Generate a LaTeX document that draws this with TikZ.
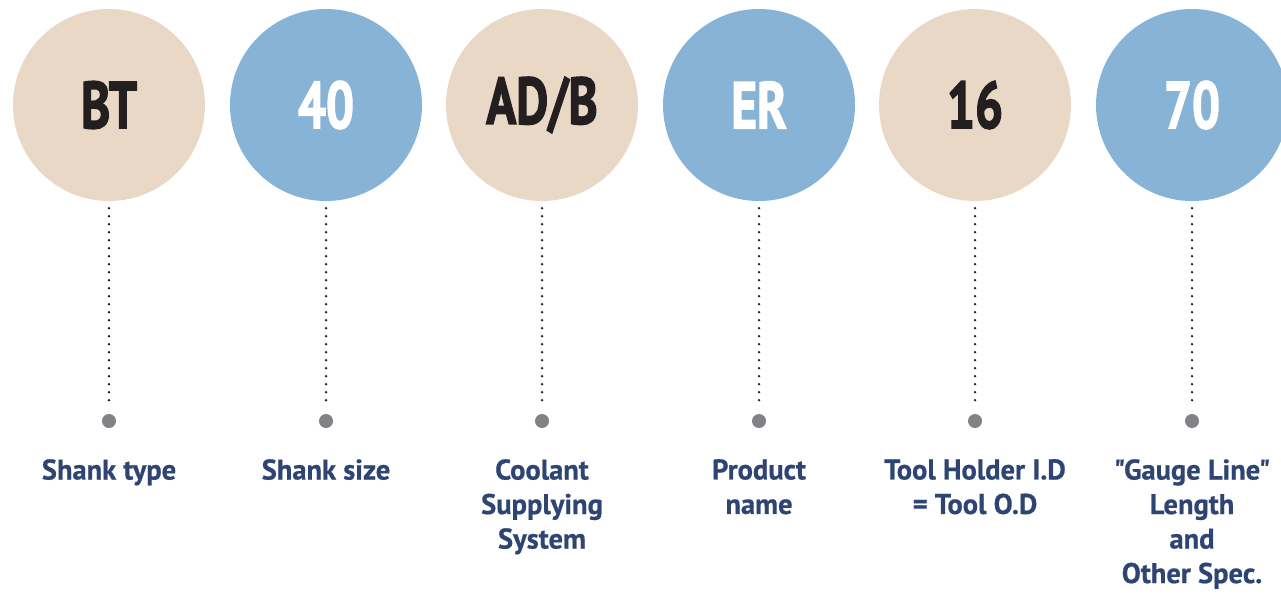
\documentclass[tikz,border=0pt]{standalone}
\usepackage{fontspec}
\setmainfont{PT Sans}
\newfontfamily\labfont{PT Sans}[Ligatures=TeXOff,BoldFeatures={FakeBold=0.6}]
\newfontfamily\bigfont{PT Sans}[BoldFeatures={FakeBold=2.4}]
\definecolor{beige}{HTML}{E9D8C5}
\definecolor{sky}{HTML}{86B3D6}
\definecolor{navy}{HTML}{2E4473}
\definecolor{ink}{HTML}{231F20}
\definecolor{dotgray}{HTML}{808285}
\begin{document}
\begin{tikzpicture}[x=1pt,y=-1pt,
  circ/.style={circle,inner sep=0pt,minimum size=192pt,font=\bigfont\fontsize{66}{66}\selectfont\bfseries},
  tan/.style={circ,fill=beige,text=ink},
  blu/.style={circ,fill=sky,text=white},
  pin/.style={circle,fill=dotgray,inner sep=0pt,minimum size=14pt},
  lead/.style={draw=ink,line width=2.6pt,line cap=round,dash pattern=on 0pt off 8pt},
  lab/.style={anchor=north,inner sep=0pt,align=center,text=navy,font=\labfont\fontsize{28.5}{34.5}\selectfont\bfseries}]
\useasboundingbox (0,0) rectangle (1281,594);
\clip (0,0) rectangle (1281,594);
\foreach \i/\x/\s/\t in {1/109/tan/BT,2/326/blu/40,3/542/tan/AD\slash B,4/759/blu/ER,5/975/tan/16,6/1192/blu/70}{
  \node[\s] (c\i) at (\x,105) {\scalebox{0.75}[1]{\t}};
  \node[pin] (d\i) at (\x,421) {};
  \draw[lead] ([yshift=-7pt]c\i.south) -- ([yshift=6pt]d\i.north);
}
\node[lab] (l1) at (109,459) {Shank type};
\node[lab] (l2) at (326,459) {Shank size};
\node[lab] (l3) at (542,459) {Coolant\\Supplying\\System};
\node[lab] (l4) at (759,459) {Product\\name};
\node[lab] (l5) at (975,459) {Tool Holder I.D\\= Tool O.D};
\node[lab] (l6) at (1192,459) {"Gauge Line"\\Length\\and\\Other Spec.};
\end{tikzpicture}
\end{document}
